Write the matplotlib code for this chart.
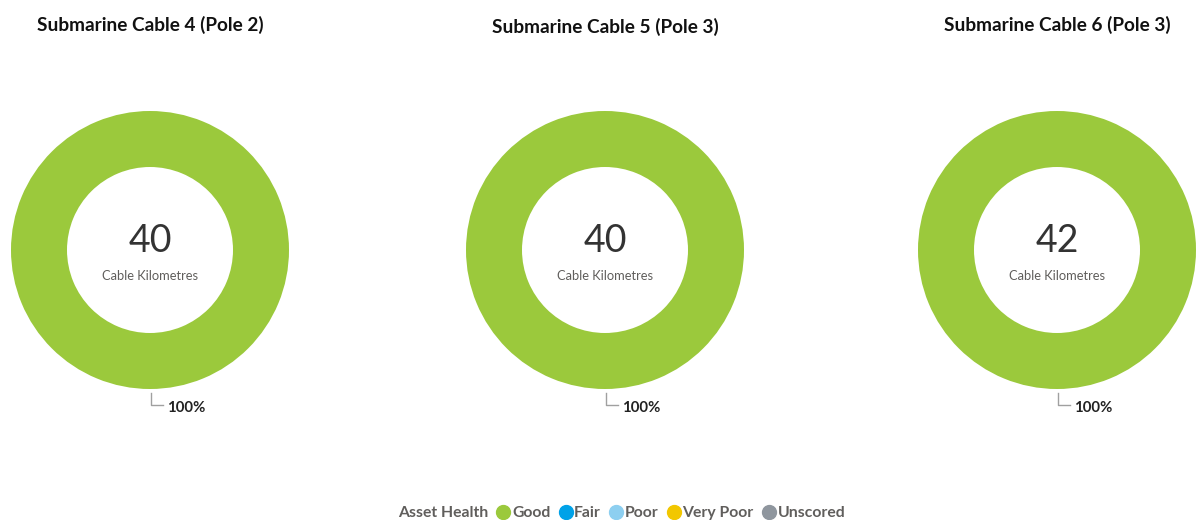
import matplotlib.pyplot as plt
from matplotlib.lines import Line2D

# Data
cables = ['Submarine Cable 4 (Pole 2)', 'Submarine Cable 5 (Pole 3)', 'Submarine Cable 6 (Pole 3)']
totals_km = [40, 40, 42]
categories = ['Good', 'Fair', 'Poor', 'Very Poor', 'Unscored']
cat_colors = ['#9BC93C', '#00A2E8', '#8DCFF0', '#F2C700', '#8F969E']
# share of cable km per health category (%)
shares = [
    [100, 0, 0, 0, 0],
    [100, 0, 0, 0, 0],
    [100, 0, 0, 0, 0],
]

plt.rcParams['font.family'] = ['Lato', 'DejaVu Sans']

W, H = 1197, 520
fig = plt.figure(figsize=(W / 100, H / 100), dpi=100)
ax = fig.add_axes([0, 0, 1, 1])

centers_x = [150, 605, 1057]
title_y = [25, 27, 25]
cy = 250
r_out, r_in = 139, 83

for i, name in enumerate(cables):
    cx = centers_x[i]
    vals = [v for v in shares[i] if v > 0]
    cols = [c for v, c in zip(shares[i], cat_colors) if v > 0]
    ax.pie(vals, colors=cols, center=(cx, cy), radius=r_out, startangle=90,
           counterclock=False, wedgeprops=dict(width=r_out - r_in, linewidth=0),
           frame=True)
    ax.text(cx, title_y[i], name, ha='center', va='center', fontsize=13.7,
            fontweight='bold', color='#111111')
    ax.text(cx, 241, f'{totals_km[i]}', ha='center', va='center', fontsize=27,
            color='#333333')
    ax.text(cx, 276, 'Cable Kilometres', ha='center', va='center', fontsize=9.3,
            color='#605E5C')
    # leader line and percentage label
    ax.plot([cx + 0.5, cx + 0.5, cx + 13], [393, 405, 405], color='#A0A0A0', lw=1)
    ax.text(cx + 17, 408, f'{shares[i][0]}%', ha='left', va='center', fontsize=10.8,
            fontweight='bold', color='#222222')

ax.set_xlim(0, W)
ax.set_ylim(H, 0)
ax.set_aspect('equal')
ax.axis('off')

# legend, with the title as an inline first entry
handles = [Line2D([], [], ls='', marker='')]
handles += [Line2D([], [], marker='o', ls='', color=c, markersize=10) for c in cat_colors]
labels = ['Asset Health'] + categories
leg = fig.legend(handles, labels, loc='center',
                 bbox_to_anchor=(613 / W, 1 - 513 / H), ncol=6, frameon=False,
                 handletextpad=0.0, columnspacing=0.42, handlelength=1.1,
                 prop=dict(size=11.3, weight='bold'), labelcolor='#605E5C')

fig.savefig('out.png', dpi=100)
